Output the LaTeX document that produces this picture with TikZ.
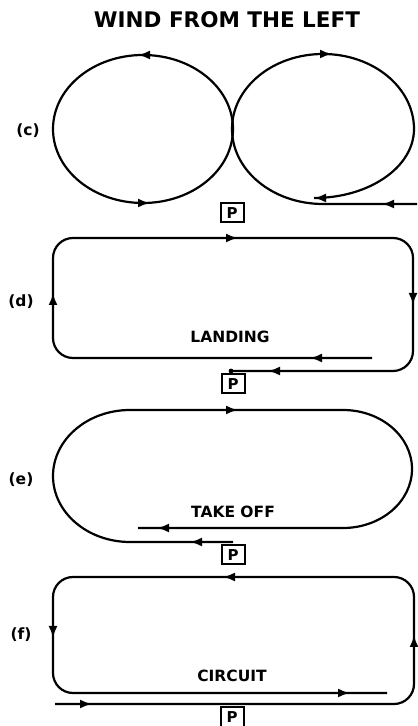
\documentclass[tikz,border=0pt]{standalone}
\usepackage{fontspec}
\newfontfamily\diagfont{DejaVu Sans}
\usetikzlibrary{arrows.meta}

\begin{document}
\begin{tikzpicture}[x=1bp,y=1bp,line width=2.2bp,
    tag/.style={font=\diagfont\bfseries\fontsize{15.5bp}{18bp}\selectfont},
    pbox/.style={draw,line width=2bp,minimum width=23bp,minimum height=19bp,inner sep=0pt,
                 font=\diagfont\bfseries\fontsize{15bp}{17bp}\selectfont},
    tip/.style={-{Latex[length=12bp,width=9bp]}}]
    \useasboundingbox (0,0) rectangle (417,726);
    \node[font=\diagfont\bfseries\fontsize{21.5bp}{25bp}\selectfont] (title) at (227,706) {WIND FROM THE LEFT};

    % (c) figure of eight
    \node[tag] (c) at (28,595) {(c)};
    \draw (143,597) ellipse [x radius=90, y radius=74];
    \draw (417,522) -- (323,522) arc [start angle=270, end angle=0, x radius=91, y radius=75]
          arc [start angle=0, end angle=-90, x radius=100, y radius=69];
    \draw[tip] (139,671) -- +(-1,0);
    \draw[tip] (149,523) -- +(1,0);
    \draw[tip] (331,672) -- +(1,0);
    \draw[tip] (383,522) -- +(-1,0);
    \draw[tip] (315,528) -- +(-1,0);
    \node[pbox] (pc) at (232,513) {P};

    % (d) landing
    \node[tag] (d) at (21,424) {(d)};
    \draw[rounded corners=20bp] (372,368) -- (53,368) -- (53,488) -- (413,488) -- (413,355) -- (231,355);
    \fill (231,355) circle (2.4bp);
    \draw[tip] (53,432) -- +(0,1);
    \draw[tip] (237,488) -- +(1,0);
    \draw[tip] (413,422) -- +(0,-1);
    \draw[tip] (311,368) -- +(-1,0);
    \draw[tip] (269,355) -- +(-1,0);
    \node[tag] (land) at (230,389) {LANDING};
    \node[pbox] (pd) at (233,342) {P};

    % (e) take off
    \node[tag] (e) at (21,246) {(e)};
    \draw (233,184) -- (130,184) arc [start angle=270, end angle=90, x radius=77, y radius=66]
          -- (343,316) arc [start angle=90, end angle=-90, x radius=69, y radius=59] -- (138,198);
    \draw[tip] (237,316) -- +(1,0);
    \draw[tip] (158,198) -- +(-1,0);
    \draw[tip] (191,184) -- +(-1,0);
    \node[tag] (take) at (233,214) {TAKE OFF};
    \node[pbox] (pe) at (233,171) {P};

    % (f) circuit
    \node[tag] (f) at (21,91) {(f)};
    \draw[rounded corners=20bp] (55,22) -- (414,22) -- (414,149) -- (53,149) -- (53,33) -- (387,33);
    \draw[tip] (91,22) -- +(1,0);
    \draw[tip] (349,33) -- +(1,0);
    \draw[tip] (414,90) -- +(0,1);
    \draw[tip] (224,149) -- +(-1,0);
    \draw[tip] (53,89) -- +(0,-1);
    \node[tag] (circ) at (232,50) {CIRCUIT};
    \node[pbox] (pf) at (232,9) {P};
\end{tikzpicture}
\end{document}
